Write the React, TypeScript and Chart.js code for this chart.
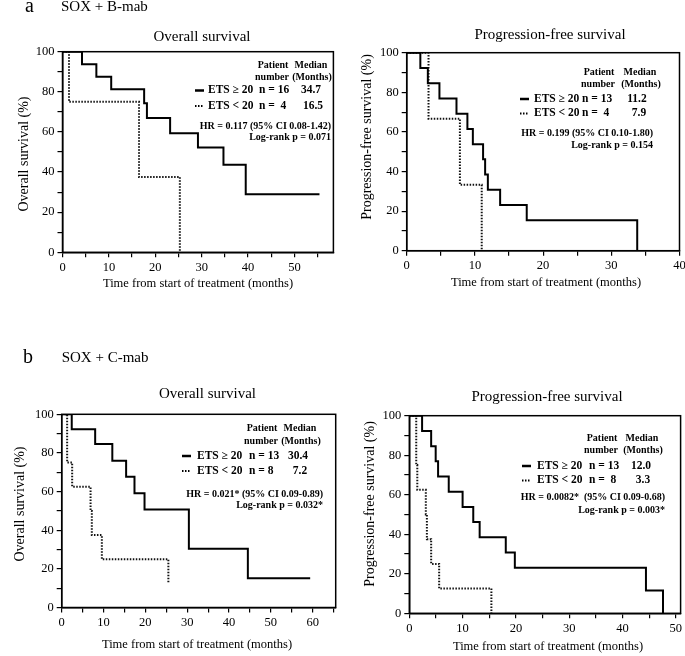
import React, { useEffect, useRef } from "react";
import { Chart, registerables } from "chart.js";

Chart.register(...registerables);

const FONT = '"Liberation Serif", "Times New Roman", Times, serif';

// ---------- data (months, survival %) ----------
const aOsHiTimes = [0, 4.2, 7.3, 10.5, 17.6, 18.2, 23.2, 29.2, 34.7, 39.5, 55.4];
const aOsHiSurv = [100, 93.8, 87.5, 81.3, 74.3, 67.0, 59.3, 52.2, 43.7, 28.9, 28.9];
const aOsLoTimes = [0, 1.4, 16.5, 25.3];
const aOsLoSurv = [100, 75, 37.5, 0];

const aPfsHiTimes = [0, 2.0, 3.1, 4.8, 7.3, 8.9, 9.7, 11.2, 11.5, 11.9, 13.7, 17.6, 33.8];
const aPfsHiSurv = [100, 92.3, 84.6, 76.9, 69.2, 61.5, 53.8, 46.2, 38.5, 30.8, 23.1, 15.4, 0];
const aPfsLoTimes = [0, 3.2, 7.8, 11.0];
const aPfsLoSurv = [100, 66.7, 33.3, 0];

const bOsHiTimes = [0, 2.4, 8.0, 12.1, 15.4, 17.4, 19.8, 30.4, 44.5, 59.4];
const bOsHiSurv = [100, 92.3, 84.6, 76.0, 67.7, 59.1, 50.7, 30.4, 15.2, 15.2];
const bOsLoTimes = [0, 1.3, 2.5, 6.9, 7.2, 9.6, 25.5];
const bOsLoSurv = [100, 75, 62.5, 50, 37.5, 25, 12.5];

const bPfsHiTimes = [0, 2.4, 4.1, 4.95, 5.4, 7.4, 10.0, 12.0, 13.2, 18.1, 19.8, 44.4, 47.6];
const bPfsHiSurv = [100, 92.3, 84.6, 76.9, 69.2, 61.5, 53.8, 46.2, 38.5, 30.8, 23.1, 11.5, 0];
const bPfsLoTimes = [0, 1.3, 1.5, 3.1, 3.3, 4.1, 5.6, 15.4];
const bPfsLoSurv = [100, 75, 62.5, 50, 37.5, 25, 12.5, 0];

// x-axis extents (months)
const xMaxes = [58.4, 40, 65.5, 50.9];

// ---------- text content ----------
const xTitle = "Time from start of treatment (months)";
const osTitle = "Overall survival";
const pfsTitle = "Progression-free survival";
const osYTitle = "Overall survival (%)";
const pfsYTitle = "Progression-free survival (%)";

type TextItem = { s: string; x: number; y: number; f: string; a: CanvasTextAlign; b?: CanvasTextBaseline };
type Sample = { x0: number; x1: number; y: number; dotted: boolean };

interface PanelCfg {
  canvas: { x: number; y: number; w: number; h: number };
  area: { l: number; t: number; r: number; b: number };
  xMax: number;
  hi: { t: number[]; s: number[] };
  lo: { t: number[]; s: number[] };
  texts: TextItem[];
  samples: Sample[];
  yTitle: { s: string; x: number; y: number };
}

const F_HEAD = `bold 10px ${FONT}`;
const F_ROW = `bold 11.5px ${FONT}`;
const F_STAT = `bold 10px ${FONT}`;
const F_TITLE = `15px ${FONT}`;
const F_XT = `12.5px ${FONT}`;
const F_LETTER = `20px ${FONT}`;
const F_GROUP = `15px ${FONT}`;

const legendBlock = (
  hx: number, mx: number, hy1: number, hy2: number,
  sx: number, ry1: number, ry2: number, etsX: number, nX: number,
  medX: number, med1: string, med2: string, n1: string, n2: string,
  statX: number, sy1: number, sy2: number, hr: string, lr: string
): { texts: TextItem[]; samples: Sample[] } => ({
  texts: [
    { s: "Patient", x: hx, y: hy1, f: F_HEAD, a: "center" },
    { s: "Median", x: mx, y: hy1, f: F_HEAD, a: "center" },
    { s: "number", x: hx - 1, y: hy2, f: F_HEAD, a: "center" },
    { s: "(Months)", x: mx + 1, y: hy2, f: F_HEAD, a: "center" },
    { s: "ETS \u2265 20", x: etsX, y: ry1, f: F_ROW, a: "left" },
    { s: n1, x: nX, y: ry1, f: F_ROW, a: "left" },
    { s: med1, x: medX, y: ry1, f: F_ROW, a: "center" },
    { s: "ETS < 20", x: etsX, y: ry2, f: F_ROW, a: "left" },
    { s: n2, x: nX, y: ry2, f: F_ROW, a: "left" },
    { s: med2, x: medX + 2, y: ry2, f: F_ROW, a: "center" },
    { s: hr, x: statX, y: sy1, f: F_STAT, a: "right" },
    { s: lr, x: statX, y: sy2, f: F_STAT, a: "right" },
  ],
  samples: [
    { x0: sx, x1: sx + 9, y: ry1, dotted: false },
    { x0: sx, x1: sx + 9, y: ry2, dotted: true },
  ],
});

const lgA1 = legendBlock(273, 311, 65, 77, 195, 90.5, 106, 208, 259, 311, "34.7", "16.5", "n = 16", "n =  4",
  331, 126.7, 137.5, "HR = 0.117 (95% CI 0.08-1.42)", "Log-rank p = 0.071");
const lgA2 = legendBlock(599, 640, 72, 84.5, 520, 99, 113.5, 534, 582, 637, "11.2", "7.9", "n = 13", "n =  4",
  653, 133.5, 145.5, "HR = 0.199 (95% CI 0.10-1.80)", "Log-rank p = 0.154");
const lgB1 = legendBlock(262, 300, 428.5, 441.5, 182, 456, 471, 197, 249, 298, "30.4", "7.2", "n = 13", "n = 8",
  323, 494, 505.5, "HR = 0.021* (95% CI 0.09-0.89)", "Log-rank p = 0.032*");
const lgB2 = legendBlock(602, 642, 438.5, 450.5, 522, 466, 480.5, 537, 589, 641, "12.0", "3.3", "n = 13", "n =  8",
  665, 497, 510, "HR = 0.0082*  (95% CI 0.09-0.68)", "Log-rank p = 0.003*");

const panels: PanelCfg[] = [
  {
    canvas: { x: 0, y: 0, w: 345, h: 300 },
    area: { l: 62.5, t: 51.7, r: 333.4, b: 252.3 },
    xMax: xMaxes[0],
    hi: { t: aOsHiTimes, s: aOsHiSurv },
    lo: { t: aOsLoTimes, s: aOsLoSurv },
    texts: [
      { s: "a", x: 25, y: 11.5, f: F_LETTER, a: "left", b: "alphabetic" },
      { s: "SOX + B-mab", x: 61, y: 11, f: F_GROUP, a: "left", b: "alphabetic" },
      { s: osTitle, x: 202, y: 37, f: F_TITLE, a: "center" },
      { s: xTitle, x: 198, y: 284, f: F_XT, a: "center" },
      ...lgA1.texts,
    ],
    samples: lgA1.samples,
    yTitle: { s: osYTitle, x: 24, y: 154 },
  },
  {
    canvas: { x: 345, y: 0, w: 355, h: 300 },
    area: { l: 406.7, t: 52.7, r: 679.5, b: 250.7 },
    xMax: xMaxes[1],
    hi: { t: aPfsHiTimes, s: aPfsHiSurv },
    lo: { t: aPfsLoTimes, s: aPfsLoSurv },
    texts: [
      { s: pfsTitle, x: 550, y: 35, f: F_TITLE, a: "center" },
      { s: xTitle, x: 546, y: 283, f: F_XT, a: "center" },
      ...lgA2.texts,
    ],
    samples: lgA2.samples,
    yTitle: { s: pfsYTitle, x: 367, y: 137 },
  },
  {
    canvas: { x: 0, y: 300, w: 345, h: 356 },
    area: { l: 61.7, t: 414.3, r: 335.7, b: 607.5 },
    xMax: xMaxes[2],
    hi: { t: bOsHiTimes, s: bOsHiSurv },
    lo: { t: bOsLoTimes, s: bOsLoSurv },
    texts: [
      { s: "b", x: 23, y: 363, f: F_LETTER, a: "left", b: "alphabetic" },
      { s: "SOX + C-mab", x: 61.7, y: 362, f: F_GROUP, a: "left", b: "alphabetic" },
      { s: osTitle, x: 207.5, y: 394, f: F_TITLE, a: "center" },
      { s: xTitle, x: 197, y: 645, f: F_XT, a: "center" },
      ...lgB1.texts,
    ],
    samples: lgB1.samples,
    yTitle: { s: osYTitle, x: 20, y: 504 },
  },
  {
    canvas: { x: 345, y: 300, w: 355, h: 356 },
    area: { l: 409.3, t: 415.7, r: 680.6, b: 613.3 },
    xMax: xMaxes[3],
    hi: { t: bPfsHiTimes, s: bPfsHiSurv },
    lo: { t: bPfsLoTimes, s: bPfsLoSurv },
    texts: [
      { s: pfsTitle, x: 547, y: 397, f: F_TITLE, a: "center" },
      { s: xTitle, x: 548, y: 647, f: F_XT, a: "center" },
      ...lgB2.texts,
    ],
    samples: lgB2.samples,
    yTitle: { s: pfsYTitle, x: 370, y: 504 },
  },
];

const makePlugin = (p: PanelCfg) => ({
  id: "kmAnnotations",
  afterDraw(chart: any) {
    const ctx: CanvasRenderingContext2D = chart.ctx;
    const a = chart.chartArea;
    ctx.save();
    ctx.strokeStyle = "#000";
    ctx.lineWidth = 1.5;
    ctx.setLineDash([]);
    ctx.strokeRect(a.left, a.top, a.right - a.left, a.bottom - a.top);
    ctx.translate(-p.canvas.x, -p.canvas.y);
    ctx.fillStyle = "#000";
    for (const t of p.texts) {
      ctx.font = t.f;
      ctx.textAlign = t.a;
      ctx.textBaseline = t.b || "middle";
      ctx.fillText(t.s, t.x, t.y);
    }
    for (const s of p.samples) {
      ctx.beginPath();
      ctx.lineWidth = s.dotted ? 2 : 2.5;
      ctx.setLineDash(s.dotted ? [1.5, 1.5] : []);
      ctx.strokeStyle = "#000";
      ctx.moveTo(s.x0, s.y);
      ctx.lineTo(s.x1, s.y);
      ctx.stroke();
    }
    ctx.setLineDash([]);
    ctx.save();
    ctx.translate(p.yTitle.x, p.yTitle.y);
    ctx.rotate(-Math.PI / 2);
    ctx.font = `14px ${FONT}`;
    ctx.textAlign = "center";
    ctx.textBaseline = "middle";
    ctx.fillText(p.yTitle.s, 0, 0);
    ctx.restore();
    ctx.restore();
  },
});

function Panel({ cfg }: { cfg: PanelCfg }) {
  const ref = useRef<HTMLCanvasElement | null>(null);
  useEffect(() => {
    const c = cfg.canvas;
    const a = cfg.area;
    const X_H = 30;
    const gridOpts = {
      display: true,
      drawOnChartArea: false,
      drawTicks: true,
      tickLength: 5,
      color: "#000",
      lineWidth: 1.2,
    };
    const borderOpts = { display: true, color: "#000", width: 1.5 };
    const chart = new Chart(ref.current as HTMLCanvasElement, {
      type: "line",
      data: {
        datasets: [
          {
            data: cfg.hi.t.map((t, i) => ({ x: t, y: cfg.hi.s[i] })),
            borderColor: "#000",
            borderWidth: 2,
            pointRadius: 0,
            stepped: "before",
            fill: false,
          },
          {
            data: cfg.lo.t.map((t, i) => ({ x: t, y: cfg.lo.s[i] })),
            borderColor: "#111",
            borderWidth: 2,
            borderDash: [1.5, 1.5],
            pointRadius: 0,
            stepped: "before",
            fill: false,
          },
        ],
      },
      options: {
        responsive: false,
        animation: false,
        devicePixelRatio: 1,
        layout: {
          padding: {
            left: 0,
            top: a.t - c.y,
            right: c.x + c.w - a.r,
            bottom: c.y + c.h - a.b - X_H,
          },
        },
        plugins: {
          legend: { display: false },
          tooltip: { enabled: false },
          title: { display: false },
        },
        scales: {
          x: {
            type: "linear",
            min: 0,
            max: cfg.xMax,
            afterFit: (s: any) => {
              s.height = X_H;
            },
            ticks: {
              stepSize: 5,
              includeBounds: false,
              autoSkip: false,
              maxRotation: 0,
              minRotation: 0,
              padding: 3,
              color: "#000",
              font: { family: FONT, size: 12.5 },
              callback: (v: any) => (Number(v) % 10 === 0 ? String(v) : ""),
            },
            grid: gridOpts,
            border: borderOpts,
          },
          y: {
            min: 0,
            max: 100,
            afterFit: (s: any) => {
              s.width = a.l - c.x;
            },
            ticks: {
              stepSize: 10,
              autoSkip: false,
              padding: 3,
              color: "#000",
              font: { family: FONT, size: 12.5 },
              callback: (v: any) => (Number(v) % 20 === 0 ? String(v) : ""),
            },
            grid: gridOpts,
            border: borderOpts,
          },
        },
      } as any,
      plugins: [makePlugin(cfg)],
    });
    return () => chart.destroy();
  }, [cfg]);
  return (
    <canvas
      ref={ref}
      width={cfg.canvas.w}
      height={cfg.canvas.h}
      style={{
        position: "absolute",
        left: cfg.canvas.x,
        top: cfg.canvas.y,
        width: cfg.canvas.w,
        height: cfg.canvas.h,
      }}
    />
  );
}

export default function App() {
  return (
    <div
      style={{
        position: "absolute",
        left: 0,
        top: 0,
        width: 685,
        height: 656,
        overflow: "hidden",
        background: "#fff",
      }}
    >
      {panels.map((p, i) => (
        <Panel key={i} cfg={p} />
      ))}
    </div>
  );
}
